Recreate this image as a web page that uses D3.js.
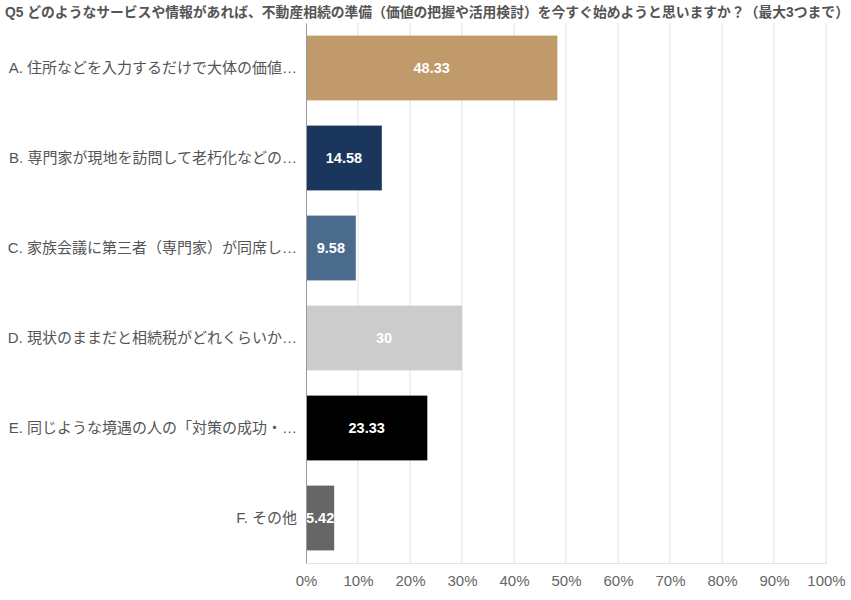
<!DOCTYPE html>
<html>
<head>
<meta charset="utf-8">
<script src="https://cdn.jsdelivr.net/npm/d3@7"></script>
<style>
  body { margin: 0; background: #fff; }
  svg text { font-family: "Liberation Sans", Arial, "Noto Sans CJK JP", sans-serif; }
</style>
</head>
<body>
<svg id="chart" width="851" height="600"></svg>
<script>
'use strict';

const title = 'Q5 どのようなサービスや情報があれば、不動産相続の準備（価値の把握や活用検討）を今すぐ始めようと思いますか？（最大3つまで）';

const categories = [
  'A. 住所などを入力するだけで大体の価値…',
  'B. 専門家が現地を訪問して老朽化などの…',
  'C. 家族会議に第三者（専門家）が同席し…',
  'D. 現状のままだと相続税がどれくらいか…',
  'E. 同じような境遇の人の「対策の成功・…',
  'F. その他'
];
const values = [48.33, 14.58, 9.58, 30, 23.33, 5.42];
const colors = ['#c09a6b', '#1b365d', '#4a6b8c', '#cccccc', '#000000', '#666666'];
const ticks = [0, 10, 20, 30, 40, 50, 60, 70, 80, 90, 100];

const svg = d3.select('#chart');
const margin = {top: 23, right: 25, bottom: 37, left: 306};
const width = 851 - margin.left - margin.right;
const height = 600 - margin.top - margin.bottom;

svg.append('text')
  .attr('x', 5)
  .attr('y', 17)
  .attr('font-size', 13.8)
  .attr('font-weight', 'bold')
  .attr('fill', '#555')
  .text(title);

const g = svg.append('g').attr('transform', `translate(${margin.left},${margin.top})`);

const x = d3.scaleLinear().domain([0, 100]).range([0, width]);
const y = d3.scaleBand().domain(categories).range([0, height]).paddingInner(0.28).paddingOuter(0.14);

// vertical grid lines
g.selectAll('.grid').data(ticks.slice(1)).enter().append('line')
  .attr('class', 'grid')
  .attr('x1', d => x(d)).attr('x2', d => x(d))
  .attr('y1', 0).attr('y2', height)
  .attr('stroke', '#e3e3e3');

// bottom axis
const xAxis = g.append('g')
  .attr('transform', `translate(0,${height})`)
  .call(d3.axisBottom(x).tickValues(ticks).tickFormat(d => d + '%').tickSize(0).tickPadding(12));
xAxis.select('.domain').attr('stroke', '#e3e3e3');
xAxis.selectAll('text').attr('font-size', 15).attr('fill', '#666');

// bars
g.selectAll('.bar').data(values).enter().append('rect')
  .attr('class', 'bar')
  .attr('x', 0)
  .attr('y', (d, i) => y(categories[i]))
  .attr('width', d => x(d))
  .attr('height', y.bandwidth())
  .attr('fill', (d, i) => colors[i]);

// value labels
g.selectAll('.val').data(values).enter().append('text')
  .attr('class', 'val')
  .attr('x', d => x(d) / 2)
  .attr('y', (d, i) => y(categories[i]) + y.bandwidth() / 2)
  .attr('dy', '0.35em')
  .attr('text-anchor', 'middle')
  .attr('font-size', 14.5)
  .attr('font-weight', 'bold')
  .attr('fill', '#fff')
  .text(d => d);

// left axis
const yAxis = g.append('g')
  .call(d3.axisLeft(y).tickSize(0).tickPadding(9));
yAxis.select('.domain').attr('stroke', '#999');
yAxis.selectAll('text').attr('font-size', 15).attr('fill', '#555');
</script>
</body>
</html>
